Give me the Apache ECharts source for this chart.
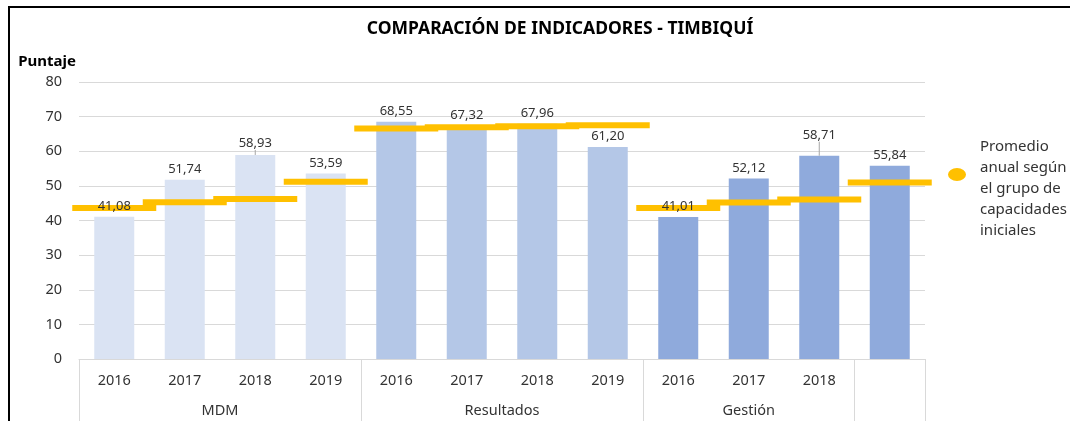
<!DOCTYPE html>
<html>
<head>
<meta charset="utf-8">
<title>Comparación de indicadores - Timbiquí</title>
<script src="https://cdn.jsdelivr.net/npm/echarts@6/dist/echarts.min.js"></script>
<style>
    html, body { margin: 0; padding: 0; background: #fff; overflow: hidden; }
    #chart { position: absolute; left: 0; top: 0; width: 1070px; height: 421px; }
    #frame { position: absolute; left: 8px; top: 6px; width: 1100px; height: 500px;
             border: 2px solid #000; pointer-events: none; }
</style>
</head>
<body>
<div id="chart"></div>
<div id="frame"></div>
<script>
// datos
var years = ['2016', '2017', '2018', '2019', '2016', '2017', '2018', '2019', '2016', '2017', '2018', ''];
var groups = ['MDM', 'Resultados', 'Gestión', ''];
var groupSizes = [4, 4, 3, 1];
var scores = [41.08, 51.74, 58.93, 53.59, 68.55, 67.32, 67.96, 61.20, 41.01, 52.12, 58.71, 55.84];
var averages = [43.6, 45.3, 46.2, 51.2, 66.6, 66.9, 67.2, 67.5, 43.6, 45.2, 46.1, 51.0];
var yTicks = [0, 10, 20, 30, 40, 50, 60, 70, 80];
var averageName = 'Promedio anual según el grupo de capacidades iniciales';

var groupColors = ['#DAE3F3', '#B4C7E7', '#8FAADC', '#8FAADC'];
var labelShift = { 2: -1, 10: -10 };
var textColor = '#333';
var font = '"Noto Sans", "Open Sans", sans-serif';

// limites y centros de cada grupo en el eje de categorias
var bounds = [0];
var centers = [];
var barColors = [];
groupSizes.forEach(function (n, g) {
    var start = bounds[bounds.length - 1];
    bounds.push(start + n);
    centers.push(start + n / 2);
    for (var i = 0; i < n; i++) barColors.push(groupColors[g]);
});

function fmt(v) {
    return v.toFixed(2).replace('.', ',');
}

var barData = scores.map(function (v, i) {
    return { value: v, itemStyle: { color: barColors[i] } };
});

// serie transparente encima de la linea amarilla, solo para las etiquetas
var labelData = scores.map(function (v, i) {
    var item = { value: v };
    if (labelShift[i] !== undefined) item.labelLine = { show: true };
    return item;
});

var myChart = echarts.init(document.getElementById('chart'), null, { renderer: 'canvas' });

myChart.setOption({
    animation: false,
    textStyle: { fontFamily: font },
    title: {
        text: 'COMPARACIÓN DE INDICADORES - TIMBIQUÍ',
        left: 555, top: 15, textAlign: 'center',
        textStyle: { fontFamily: font, fontSize: 17.5, fontWeight: 'bold', color: '#000' }
    },
    legend: {
        data: [averageName],
        orient: 'vertical',
        left: 948, top: 108, padding: 0,
        itemWidth: 18, itemHeight: 13,
        icon: 'path://M0,6.5a9,6.5 0 1,0 18,0a9,6.5 0 1,0 -18,0',
        formatter: function () {
            return '{s| }\nPromedio\nanual según\nel grupo de\ncapacidades\niniciales';
        },
        textStyle: {
            fontFamily: font, fontSize: 15, lineHeight: 21, color: textColor, padding: [0, 0, 0, 9],
            rich: { s: { fontSize: 1, lineHeight: 28 } }
        }
    },
    grid: { left: 79, right: 145, top: 82, bottom: 62, containLabel: false },
    xAxis: [{
        type: 'category',
        data: years,
        axisLine: { lineStyle: { color: '#d9d9d9' } },
        axisTick: { show: false },
        axisLabel: { interval: 0, margin: 14, fontSize: 14.5, color: textColor, fontFamily: font }
    }, {
        type: 'value',
        min: 0, max: 12,
        position: 'bottom',
        axisLine: { show: false },
        splitLine: { show: false },
        axisTick: { show: true, customValues: bounds, length: 64, lineStyle: { color: '#d9d9d9' } },
        axisLabel: {
            customValues: centers, margin: 44, fontSize: 14.5, color: textColor, fontFamily: font,
            formatter: function (v) {
                var i = centers.indexOf(v);
                return i >= 0 ? groups[i] : '';
            }
        }
    }],
    yAxis: {
        type: 'value',
        min: yTicks[0], max: yTicks[yTicks.length - 1], interval: 10,
        name: 'Puntaje',
        nameLocation: 'end',
        nameGap: 13,
        nameTextStyle: { fontFamily: font, fontSize: 15, fontWeight: 'bold', color: '#000', align: 'right', padding: [0, 3, 0, 0] },
        axisLine: { show: false },
        axisTick: { show: false },
        axisLabel: { margin: 17, fontSize: 14.5, color: textColor, fontFamily: font },
        splitLine: { lineStyle: { color: '#d9d9d9' } }
    },
    series: [{
        name: 'Puntaje',
        type: 'bar',
        data: barData,
        barWidth: 40,
        barGap: '-100%',
        z: 2
    }, {
        name: averageName,
        type: 'scatter',
        data: averages,
        symbol: 'rect',
        symbolSize: [84, 6],
        itemStyle: { color: '#FFC000', opacity: 1 },
        z: 3
    }, {
        name: 'Etiquetas',
        type: 'bar',
        data: labelData,
        barWidth: 40,
        barGap: '-100%',
        itemStyle: { color: 'rgba(0,0,0,0)' },
        z: 4,
        silent: true,
        label: {
            show: true, position: 'top', distance: 4,
            fontSize: 13, color: textColor, fontFamily: font,
            formatter: function (p) { return fmt(p.value); }
        },
        labelLine: { show: false, lineStyle: { color: '#a6a6a6', width: 1 } },
        labelLayout: function (p) {
            var dy = labelShift[p.dataIndex];
            return dy !== undefined ? { dy: dy } : {};
        }
    }]
});
</script>
</body>
</html>
